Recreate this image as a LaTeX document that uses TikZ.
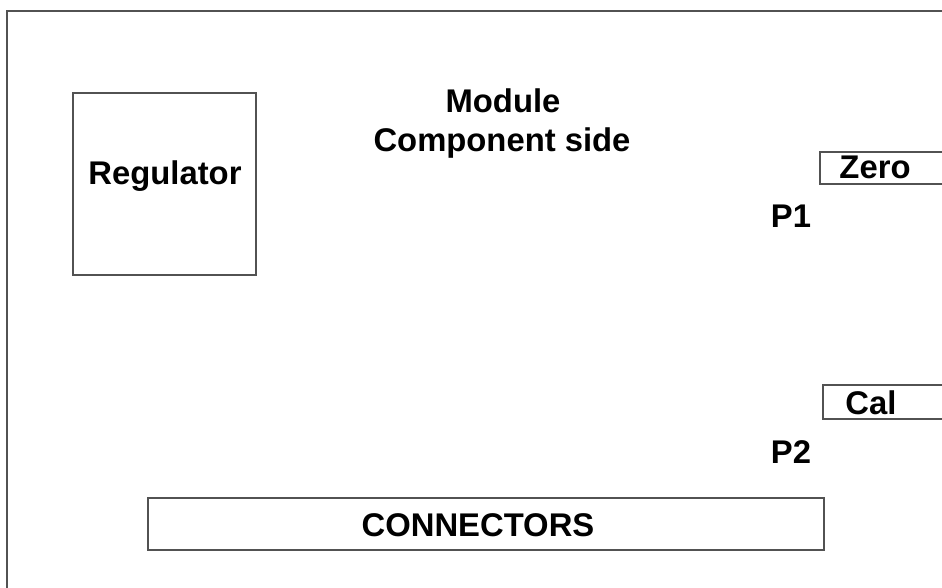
\documentclass[tikz,border=0pt]{standalone}
\usepackage{fontspec}
\setmainfont{Liberation Sans}

\begin{document}
\begin{tikzpicture}[x=0.75pt,y=-0.75pt,
  frame/.style={draw=black!68,line width=2.2pt},
  box/.style={draw=black!68,line width=1.6pt},
  lbl/.style={font=\fontsize{24.6}{28}\selectfont\bfseries,inner sep=0pt,anchor=base}]
\useasboundingbox (0,0) rectangle (942,588);
\clip (0,0) rectangle (942,588);
% board outline (runs off right and bottom)
\draw[frame] (7,11) rectangle (960,610);
% ---------- regulator ----------
\draw[box] (73,93) rectangle (256,275);
\node[lbl] (reg) at (165,185) {Regulator};
% ---------- title ----------
\node[lbl] (mod) at (503,113) {Module};
\node[lbl] (side) at (502,152) {Component side};
% ---------- pots ----------
\draw[box] (820,152) rectangle (960,184);
\node[lbl] (zero) at (875,179) {Zero};
\node[lbl] (p1) at (791,227) {P1};
\draw[box] (823,385) rectangle (960,419);
\node[lbl] (cal) at (871,414) {Cal};
\node[lbl] (p2) at (791,463) {P2};
% ---------- connectors ----------
\draw[box] (148,498) rectangle (824,550);
\node[lbl] (conn) at (478,536) {CONNECTORS};
\end{tikzpicture}
\end{document}
